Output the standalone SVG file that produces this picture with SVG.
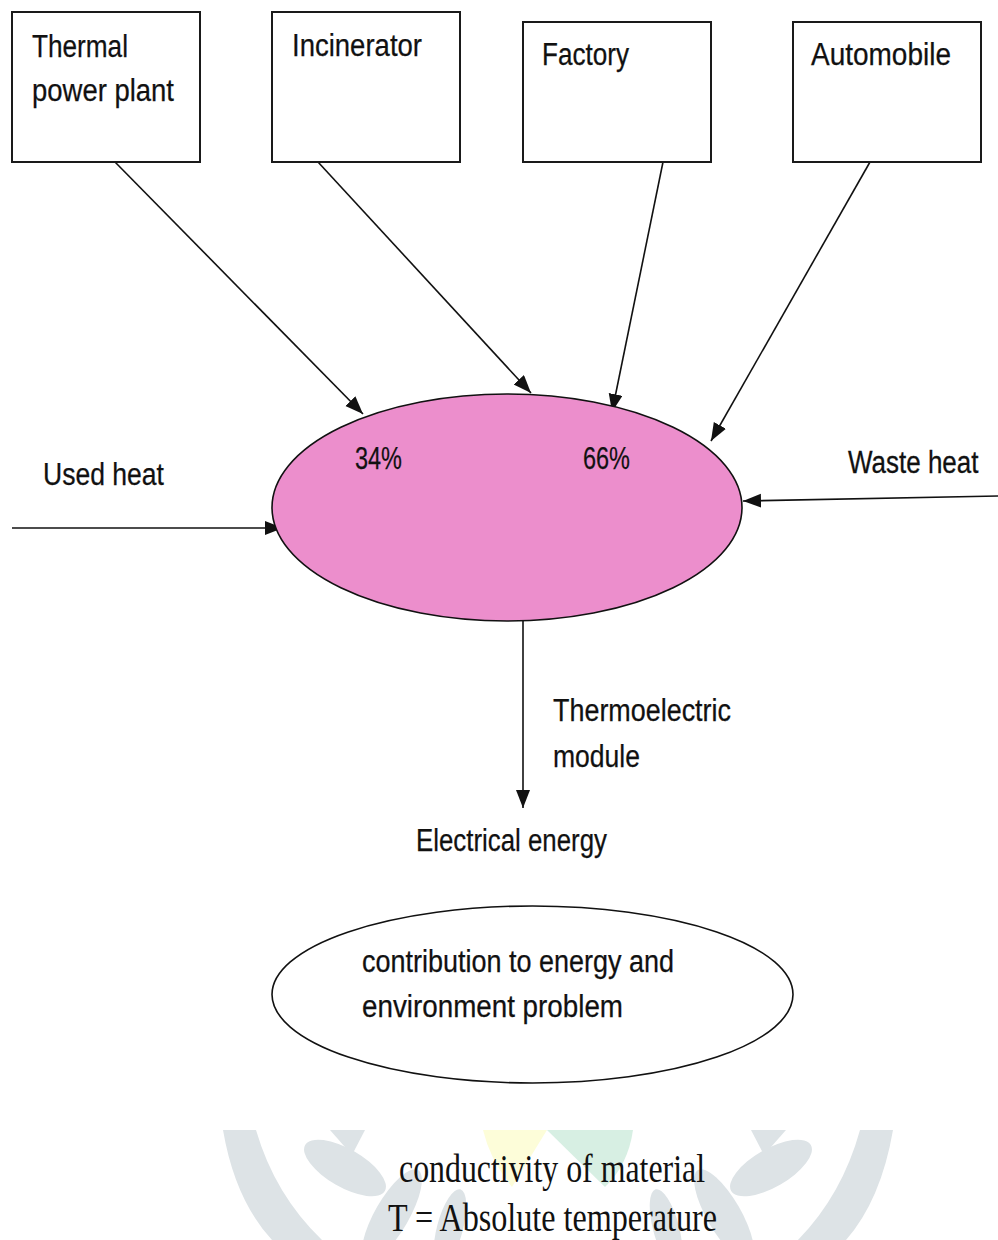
<svg xmlns="http://www.w3.org/2000/svg" width="998" height="1240" viewBox="0 0 998 1240">
  <style>
    .box { fill: #ffffff; stroke: #1a1a1a; stroke-width: 2; }
    .lbl { font-family: "Liberation Sans", Arial, sans-serif; font-size: 31px; fill: #111111; stroke: #111111; stroke-width: 0.25; }
    .ser { font-family: "Liberation Serif", "Times New Roman", serif; font-size: 40px; fill: #111111; }
    .conn { stroke: #111111; stroke-width: 1.6; fill: none; marker-end: url(#arrow); }
    .wm { fill: #dde3e6; }
  </style>
  <defs>
    <marker id="arrow" markerUnits="userSpaceOnUse" markerWidth="20" markerHeight="16" refX="18" refY="7" orient="auto">
      <path d="M0,0 L18,7 L0,14 Z" fill="#111111"/>
    </marker>
    <clipPath id="wmclip">
      <rect x="0" y="1130" width="998" height="110"/>
    </clipPath>
  </defs>

  <rect width="998" height="1240" fill="#ffffff"/>

  <!-- watermark -->
  <g id="watermark" clip-path="url(#wmclip)">
    <path class="wm" d="M223,1130 Q235,1200 272,1240 L322,1240 Q275,1195 256,1130 Z"/>
    <path class="wm" d="M893,1130 Q881,1200 846,1240 L798,1240 Q842,1195 860,1130 Z"/>
    <ellipse class="wm" cx="345" cy="1168" rx="46" ry="19" transform="rotate(30 345 1168)"/>
    <path class="wm" d="M330,1130 L365,1130 L352,1155 Z"/>
    <ellipse class="wm" cx="392" cy="1215" rx="17" ry="52" transform="rotate(30 392 1215)"/>
    <ellipse class="wm" cx="450" cy="1228" rx="13" ry="40" transform="rotate(15 450 1228)"/>
    <ellipse class="wm" cx="771" cy="1168" rx="46" ry="19" transform="rotate(-30 771 1168)"/>
    <path class="wm" d="M786,1130 L751,1130 L764,1155 Z"/>
    <ellipse class="wm" cx="724" cy="1215" rx="17" ry="52" transform="rotate(-30 724 1215)"/>
    <ellipse class="wm" cx="666" cy="1228" rx="13" ry="40" transform="rotate(-15 666 1228)"/>
    <path d="M483,1130 L547,1130 L512,1187 Q490,1160 483,1130 Z" fill="#fdfdd9"/>
    <path d="M547,1130 L633,1130 Q628,1165 605,1187 Z" fill="#d7efe3"/>
  </g>

  <!-- connectors -->
  <g id="connectors">
    <line class="conn" x1="115" y1="162" x2="363" y2="414"/>
    <line class="conn" x1="318" y1="162" x2="531" y2="393"/>
    <line class="conn" x1="663" y1="162" x2="612" y2="412"/>
    <line class="conn" x1="870" y1="162" x2="711" y2="441"/>
    <line class="conn" x1="12" y1="528" x2="283" y2="528"/>
    <line class="conn" x1="998" y1="496" x2="743" y2="501"/>
    <line class="conn" x1="523" y1="621" x2="523" y2="808"/>
  </g>

  <g id="thermal-power-plant">
    <rect class="box" x="12" y="12" width="188" height="150"/>
    <text class="lbl" x="32" y="57" textLength="96" lengthAdjust="spacingAndGlyphs">Thermal</text>
    <text class="lbl" x="32" y="101" textLength="142" lengthAdjust="spacingAndGlyphs">power plant</text>
  </g>

  <g id="incinerator">
    <rect class="box" x="272" y="12" width="188" height="150"/>
    <text class="lbl" x="292" y="56" textLength="130" lengthAdjust="spacingAndGlyphs">Incinerator</text>
  </g>

  <g id="factory">
    <rect class="box" x="523" y="22" width="188" height="140"/>
    <text class="lbl" x="542" y="65" textLength="87" lengthAdjust="spacingAndGlyphs">Factory</text>
  </g>

  <g id="automobile">
    <rect class="box" x="793" y="22" width="188" height="140"/>
    <text class="lbl" x="811" y="65" textLength="140" lengthAdjust="spacingAndGlyphs">Automobile</text>
  </g>

  <g id="heat-ellipse">
    <ellipse cx="507" cy="507.5" rx="235" ry="113.5" fill="#ec8ecc" stroke="#111111" stroke-width="1.6"/>
    <text class="lbl" x="355" y="469" textLength="47" lengthAdjust="spacingAndGlyphs">34%</text>
    <text class="lbl" x="583" y="469" textLength="47" lengthAdjust="spacingAndGlyphs">66%</text>
  </g>

  <g id="used-heat">
    <text class="lbl" x="43" y="485" textLength="121" lengthAdjust="spacingAndGlyphs">Used heat</text>
  </g>

  <g id="waste-heat">
    <text class="lbl" x="0" y="0" style="font-size:26px" transform="translate(848 473) scale(1 1.2)">Waste heat</text>
  </g>

  <g id="thermoelectric-module">
    <text class="lbl" x="553" y="721" textLength="178" lengthAdjust="spacingAndGlyphs">Thermoelectric</text>
    <text class="lbl" x="553" y="767" textLength="87" lengthAdjust="spacingAndGlyphs">module</text>
  </g>

  <g id="electrical-energy">
    <text class="lbl" x="416" y="851" textLength="191" lengthAdjust="spacingAndGlyphs">Electrical energy</text>
  </g>

  <g id="contribution">
    <ellipse cx="532.5" cy="994.5" rx="260.5" ry="88.5" fill="#ffffff" stroke="#111111" stroke-width="1.6"/>
    <text class="lbl" x="362" y="972" textLength="312" lengthAdjust="spacingAndGlyphs">contribution to energy and</text>
    <text class="lbl" x="362" y="1017" textLength="261" lengthAdjust="spacingAndGlyphs">environment problem</text>
  </g>

  <g id="footnote">
    <text class="ser" x="399" y="1182" textLength="306" lengthAdjust="spacingAndGlyphs">conductivity of material</text>
    <text class="ser" x="388" y="1231" textLength="329" lengthAdjust="spacingAndGlyphs">T = Absolute temperature</text>
  </g>
</svg>
